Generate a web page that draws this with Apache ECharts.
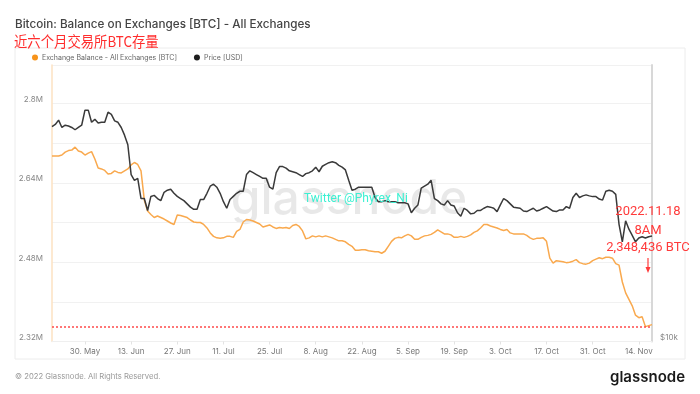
<!DOCTYPE html>
<html><head><meta charset="utf-8">
<script src="https://cdn.jsdelivr.net/npm/echarts@6/dist/echarts.min.js"></script>
<style>html,body{margin:0;padding:0;background:#fff}#c{width:700px;height:394px}</style>
</head><body><div id="c"></div>
<script>
// Daily values, 2022-05-20 .. 2022-11-18
const startDate = [2022, 4, 20];
const balanceM = [
 2.694,2.694,2.694,2.696,2.702,2.705,2.706,2.712,2.704,2.702,
 2.696,2.700,2.703,2.688,2.670,2.668,2.665,2.658,2.659,2.664,
 2.661,2.660,2.664,2.668,2.676,2.681,2.677,2.664,2.605,2.583,
 2.576,2.570,2.573,2.570,2.567,2.563,2.559,2.556,2.575,2.574,
 2.572,2.570,2.565,2.561,2.560,2.560,2.556,2.549,2.539,2.532,
 2.529,2.528,2.529,2.532,2.532,2.530,2.542,2.546,2.561,2.566,
 2.565,2.563,2.560,2.557,2.551,2.553,2.555,2.551,2.548,2.550,
 2.549,2.550,2.548,2.554,2.556,2.552,2.543,2.527,2.529,2.533,
 2.531,2.533,2.531,2.533,2.531,2.529,2.526,2.523,2.523,2.521,
 2.516,2.512,2.504,2.504,2.505,2.505,2.503,2.502,2.501,2.501,
 2.498,2.502,2.512,2.522,2.528,2.530,2.529,2.533,2.536,2.533,
 2.526,2.526,2.530,2.533,2.534,2.536,2.540,2.545,2.541,2.537,
 2.537,2.535,2.530,2.530,2.532,2.530,2.532,2.535,2.540,2.543,
 2.549,2.556,2.556,2.553,2.551,2.549,2.546,2.544,2.546,2.539,
 2.537,2.537,2.537,2.537,2.534,2.529,2.526,2.528,2.528,2.529,
 2.522,2.488,2.478,2.483,2.482,2.481,2.479,2.480,2.482,2.485,
 2.479,2.477,2.476,2.478,2.483,2.486,2.489,2.487,2.490,2.490,
 2.488,2.477,2.474,2.440,2.418,2.405,2.392,2.373,2.368,2.370,
 2.350,2.352,2.354
];
const priceK = [
 27.9,28.2,28.8,27.8,28.1,28.0,27.8,27.5,27.8,28.1,
 30.2,30.2,28.5,28.9,28.4,28.5,28.5,29.9,29.6,28.7,
 28.5,27.8,26.8,25.6,22.2,21.6,21.8,19.8,19.8,18.7,
 20.0,20.1,19.8,19.6,20.4,20.6,20.7,20.3,20.0,19.8,
 19.6,19.3,19.0,18.8,18.8,19.7,19.7,20.3,21.0,21.2,
 20.9,20.3,19.5,18.9,19.7,20.0,20.3,20.5,20.5,22.2,
 22.6,22.4,22.2,22.0,21.8,21.8,20.9,20.7,22.4,23.06,
 23.06,22.9,22.6,22.5,22.4,22.2,22.0,22.3,22.4,22.6,
 23.0,22.5,23.1,23.3,23.5,23.6,23.5,23.2,23.0,22.7,
 21.6,20.6,20.7,20.9,20.9,20.9,20.9,20.9,19.9,19.5,
 19.5,19.6,19.5,19.5,19.5,19.4,19.4,19.4,19.3,18.5,
 18.9,19.2,20.8,21.0,21.2,21.6,19.8,19.6,19.3,19.2,
 19.6,19.2,19.1,18.5,18.2,18.9,18.7,18.4,18.45,18.7,
 18.7,18.9,19.05,19.0,18.9,18.6,19.2,19.8,19.6,19.3,
 19.0,18.95,18.9,18.65,18.6,18.75,18.9,18.65,18.75,18.9,
 19.05,18.85,18.65,18.6,18.75,18.75,19.05,18.9,19.9,20.3,
 19.9,20.05,20.15,20.05,19.98,19.98,19.75,19.65,20.5,20.6,
 20.5,20.2,17.5,16.1,17.8,17.1,16.6,16.1,16.4,16.5,
 16.4,16.5,16.55
];
const xTickDates = ['2022-05-30','2022-06-13','2022-06-27','2022-07-11','2022-07-25','2022-08-08','2022-08-22','2022-09-05','2022-09-19','2022-10-03','2022-10-17','2022-10-31','2022-11-14'];
const xTickLabels = ['30. May','13. Jun','27. Jun','11. Jul','25. Jul','8. Aug','22. Aug','5. Sep','19. Sep','3. Oct','17. Oct','31. Oct','14. Nov'];
const yTickValues = [2.32, 2.48, 2.64, 2.80];
const yTickLabels = ['2.32M', '2.48M', '2.64M', '2.8M'];
const markValueM = 2.353;

const dates = balanceM.map((_, i) => new Date(Date.UTC(startDate[0], startDate[1], startDate[2] + i)).toISOString().slice(0, 10));
const isTick = (idx, val) => xTickDates.indexOf(val) >= 0;

const chart = echarts.init(document.getElementById('c'), null, {renderer: 'canvas'});
const option = {
  animation: false,
  textStyle: {fontFamily: 'Inter'},
  grid: {left: 52, right: 48, top: 65, bottom: 52.5},
  legend: {
    left: 32, top: 54, padding: 0, icon: 'circle', itemWidth: 6, itemHeight: 6, itemGap: 17,
    textStyle: {fontSize: 7, color: '#666', fontFamily: 'Inter', padding: [0, 0, 0, -1]},
    data: ['Exchange Balance - All Exchanges [BTC]', 'Price [USD]']
  },
  xAxis: {
    type: 'category', data: dates, boundaryGap: false,
    axisLine: {show: true, lineStyle: {color: '#efefef'}},
    axisTick: {show: true, interval: isTick, length: 3, lineStyle: {color: '#e3e3e3'}},
    axisLabel: {interval: isTick, formatter: v => xTickLabels[xTickDates.indexOf(v)] || '', fontSize: 8, color: '#777', margin: 6},
    splitLine: {show: false}
  },
  yAxis: [{
    type: 'value', min: 2.32, max: 2.8776, interval: 0.08, position: 'left',
    axisLine: {show: true, lineStyle: {color: '#fde2c2', width: 1.5}},
    axisTick: {show: false},
    axisLabel: {
      formatter: v => { const i = yTickValues.findIndex(t => Math.abs(t - v) < 1e-6); return i >= 0 ? yTickLabels[i] : ''; },
      fontSize: 8, color: '#888', verticalAlign: 'bottom', margin: 9
    },
    splitLine: {show: true, lineStyle: {color: '#f1f1f1'}}
  }, {
    type: 'log', logBase: 10, min: 10, max: 37.47, position: 'right',
    axisLine: {show: true, lineStyle: {color: '#d8d8d8', width: 2}},
    axisTick: {show: false},
    axisLabel: {showMinLabel: true, formatter: v => (Math.abs(v - 10) < 1e-6 ? '$10k' : ''), fontSize: 8, color: '#888', verticalAlign: 'bottom', margin: 8},
    splitLine: {show: false}
  }],
  series: [{
    name: 'Exchange Balance - All Exchanges [BTC]', type: 'line', data: balanceM, yAxisIndex: 0,
    showSymbol: false, lineStyle: {color: '#f9a94e', width: 1.5}, itemStyle: {color: '#f7931a'}, z: 3,
    markLine: {
      silent: true, symbol: 'none', label: {show: false},
      lineStyle: {color: '#ff4a4a', type: [2, 2], width: 1.5},
      data: [{yAxis: markValueM}]
    }
  }, {
    name: 'Price [USD]', type: 'line', data: priceK, yAxisIndex: 1,
    showSymbol: false, lineStyle: {color: '#3a3a3a', width: 1.5}, itemStyle: {color: '#1e1e1e'}, z: 3
  }],
  graphic: [
    {type: 'rect', silent: true, z: -10, shape: {x: 15, y: 48, width: 670, height: 311}, style: {fill: 'none', stroke: '#ececec', lineWidth: 1}},
    {type: 'text', silent: true, x: 15, y: 24, style: {text: 'Bitcoin: Balance on Exchanges [BTC] - All Exchanges', font: '500 11.7px Inter', fill: '#444', verticalAlign: 'middle'}},
    {type: 'text', silent: true, x: 14, y: 41, scaleX: 0.89, style: {text: '近六个月交易所BTC存量', font: '15px "Noto Sans CJK SC"', fill: '#ff2d2d', verticalAlign: 'middle'}},
    {type: 'text', silent: true, z: 0, x: 349, y: 200, style: {text: 'glassnode', font: '500 48px Inter', fill: 'rgba(0,0,0,0.09)', align: 'center', verticalAlign: 'middle'}},
    {type: 'text', silent: true, z: 5, x: 304, y: 199, style: {text: 'Twitter @Phyrex_Ni', font: '12px Roboto', fill: '#3cf0d2', verticalAlign: 'middle'}},
    {type: 'text', silent: true, z: 5, x: 648, y: 212, style: {text: '2022.11.18', font: '13px Roboto', fill: '#ff3b3b', align: 'center', verticalAlign: 'middle'}},
    {type: 'text', silent: true, z: 5, x: 648, y: 231, style: {text: '8AM', font: '13px Roboto', fill: '#ff3b3b', align: 'center', verticalAlign: 'middle'}},
    {type: 'text', silent: true, z: 5, x: 648, y: 248, style: {text: '2,348,436 BTC', font: '13px Roboto', fill: '#ff3b3b', align: 'center', verticalAlign: 'middle'}},
    {type: 'line', silent: true, z: 5, shape: {x1: 648, y1: 258, x2: 648, y2: 268}, style: {stroke: '#ff3b3b', lineWidth: 1.2}},
    {type: 'polygon', silent: true, z: 5, shape: {points: [[645.5, 267], [650.5, 267], [648, 273]]}, style: {fill: '#ff3b3b'}},
    {type: 'text', silent: true, x: 15, y: 377, style: {text: '© 2022 Glassnode. All Rights Reserved.', font: '7.7px Inter', fill: '#999', verticalAlign: 'middle'}},
    {type: 'text', silent: true, x: 685, y: 377, style: {text: 'glassnode', font: '600 15px Inter', fill: '#1a1a1a', align: 'right', verticalAlign: 'middle'}}
  ]
};
chart.setOption(option);
</script>
</body></html>
